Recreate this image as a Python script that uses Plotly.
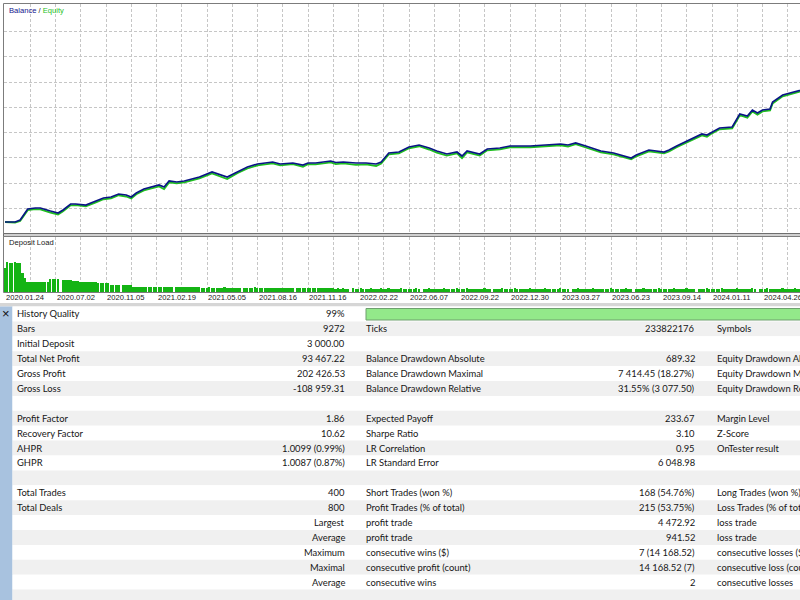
import plotly.graph_objects as go

# ---------------- data ----------------
TRADES = [0,4,6,8,9,12,14,18,21,23,26,28,32,36,39,42,45,48,50,52,55,61,63,65,68,71,75,77,82,88,92,96,100,104,106,109,114,118,120,123,129,131,134,139,143,147,149,152,156,160,164,168,171,175,179,181,183,188,191,196,200,208,214,220,223,226,230,236,241,248,250,255,261,263,266,271,276,278,280,283,288,290,291,294,296,298,300,303,304,308,311,315,318]
BALANCE = [3000,3000,3800,6960,8150,8550,8550,7360,6560,7750,10130,10130,9730,11320,12500,12900,14090,13700,12900,14480,16070,17650,16860,19240,18840,19240,20430,20820,22800,20820,22800,24780,25970,26370,26760,25970,26370,25570,26370,26370,27160,26560,26760,26370,26370,25970,26760,30330,30720,32700,33490,32310,31120,29930,30720,29140,31120,29930,31910,32310,33100,33100,33500,33890,33500,34290,33100,31120,30330,28350,29530,31510,30720,31510,33100,35480,37850,37450,38640,40230,40620,44190,45770,44980,47360,46170,47360,47750,50520,53300,54090,55280,56000]
EQUITY = [3000,2800,3400,6400,7700,8100,8000,6700,6000,7300,9600,9700,9200,10800,12000,12400,13600,13100,12300,14000,15500,17100,16000,18700,18300,18700,19900,20300,22200,20000,22300,24200,25400,25900,26200,25400,25900,24900,25900,25800,26600,25900,26200,25600,25800,25200,26200,29800,30200,32200,33000,31700,30500,29300,30200,28300,30600,29300,31400,31800,32600,32600,33000,33400,32900,33800,32500,30600,29800,27800,29000,31000,30200,30900,32600,35000,37300,36800,38100,39700,40100,43500,45300,44300,46800,45500,46800,47200,49900,52800,53600,54700,55500]

DEPOSIT_LOAD = [
    44,55,53,53,54,53,52,35,26,18, 18,18,18,18,18,18,18,19,23,23,
    23,23,0,21,21,21,21,20,20,20, 18,18,18,18,18,18,18,16,16,16,
    16,16,12,12,12,12,0,12,12,12, 12,10,10,10,10,10,10,10,10,9,
    9,9,9,9,9,9,9,0,9,9, 9,9,9,9,9,9,9,9,8,8,
    8,9,8,8,7,8,8,9,8,8, 7,8,8,8,0,8,7,8,8,9,
    8,8,7,8,8,7,8,8,8,7, 8,7,7,8,8,0,7,8,7,7,
    8,7,7,7,8,7,7,7,8,7, 7,6,7,6,7,6,6,0,7,6,
    6,7,6,6,6,7,6,6,6,7, 6,6,7,6,6,6,6,7,6,6,
    6,6,6,7,6,0,6,6,7,6, 6,6,6,6,7,6,6,6,6,7,
    6,6,6,7,6,6,6,6,6,6, 7,6,6,0,6,6,6,7,6,6,
    6,6,7,6,6,6,6,6,7,6, 6,6,6,6,7,6,6,6,6,6,
    7,6,6,6,0,6,6,7,6,6, 6,6,6,7,6,6,6,6,6,6,
    7,6,6,6,6,6,7,6,6,0, 6,6,6,7,6,6,6,6,6,7,
    6,6,6,6,6,7,6,6,6,6, 7,6,6,6,0,6,6,6,7,6,
    6,6,6,6,7,6,6,6,6,6, 7,6,6,6,6,6,7,6,0,6,
    6,6,7,6,6,6,6,6,7,6, 6,6,6,7,6,6,6,6,6,6,
]

DATE_TICKS = [0,20,40,60,80,100,120,140,160,180,200,220,240,260,280,300]
DATE_LABELS = ["2020.01.24","2020.07.02","2020.11.05","2021.02.19","2021.05.05","2021.08.16",
               "2021.11.16","2022.02.22","2022.06.07","2022.09.22","2022.12.30","2023.03.27",
               "2023.06.23","2023.09.14","2024.01.11","2024.04.26"]

COL1_LABELS = ["History Quality","Bars","Initial Deposit","Total Net Profit","Gross Profit","Gross Loss","",
               "Profit Factor","Recovery Factor","AHPR","GHPR","",
               "Total Trades","Total Deals","","","","","",""]
COL1_VALUES = ["99%","9272","3 000.00","93 467.22","202 426.53","-108 959.31","",
               "1.86","10.62","1.0099 (0.99%)","1.0087 (0.87%)","",
               "400","800","Largest","Average","Maximum","Maximal","Average",""]
COL2_LABELS = ["","Ticks","","Balance Drawdown Absolute","Balance Drawdown Maximal","Balance Drawdown Relative","",
               "Expected Payoff","Sharpe Ratio","LR Correlation","LR Standard Error","",
               "Short Trades (won %)","Profit Trades (% of total)","profit trade","profit trade",
               "consecutive wins ($)","consecutive profit (count)","consecutive wins",""]
COL2_VALUES = ["","233822176","","689.32","7 414.45 (18.27%)","31.55% (3 077.50)","",
               "233.67","3.10","0.95","6 048.98","",
               "168 (54.76%)","215 (53.75%)","4 472.92","941.52","7 (14 168.52)","14 168.52 (7)","2",""]
COL3_LABELS = ["","Symbols","","Equity Drawdown Absolute","Equity Drawdown Maximal","Equity Drawdown Relative","",
               "Margin Level","Z-Score","OnTester result","","",
               "Long Trades (won %)","Loss Trades (% of total)","loss trade","loss trade",
               "consecutive losses ($)","consecutive loss (count)","consecutive losses",""]

# ---------------- helpers (pixel -> paper) ----------------
W, H = 800, 600
def PX(px): return px / W
def PY(py): return 1 - py / H

PX_PER_TRADE = 2.525
X0_PX = 5.0
def trade_at(px): return (px - X0_PX) / PX_PER_TRADE

USD_PER_PX = 396.04
def usd_at(py): return 3000 + (222 - py) * USD_PER_PX

xr = [trade_at(4), trade_at(800)]
yr = [usd_at(233.5), usd_at(4)]
g0 = usd_at(31.7)
ygrid = [g0 - 10000 * k for k in range(9)]

GRID = dict(showgrid=True, gridcolor="#c6c6c6", gridwidth=1, griddash="3px,2px")

fig = go.Figure()
fig.add_trace(go.Scatter(x=TRADES, y=EQUITY, mode="lines", line=dict(color="#1fbf1f", width=1.8),
                         xaxis="x", yaxis="y", hoverinfo="skip", showlegend=False))
fig.add_trace(go.Scatter(x=TRADES, y=BALANCE, mode="lines", line=dict(color="#0a1585", width=1.7),
                         xaxis="x", yaxis="y", hoverinfo="skip", showlegend=False))
fig.add_trace(go.Bar(x=list(range(len(DEPOSIT_LOAD))), y=DEPOSIT_LOAD, width=0.72,
                     marker=dict(color="#14b414", line=dict(width=0)),
                     xaxis="x2", yaxis="y2", hoverinfo="skip", showlegend=False))

fig.update_layout(
    width=W, height=H, margin=dict(l=0, r=0, t=0, b=0),
    paper_bgcolor="white", plot_bgcolor="white", showlegend=False, bargap=0,
    xaxis=dict(domain=[PX(4), 1], range=xr, tick0=0, dtick=10, showticklabels=False,
               zeroline=False, showline=False, ticks="", anchor="y", **GRID),
    yaxis=dict(domain=[PY(233.5), PY(4)], range=yr, tickmode="array", tickvals=ygrid,
               showticklabels=False, zeroline=False, showline=False, ticks="", anchor="x", **GRID),
    xaxis2=dict(domain=[PX(4), 1], range=xr, tick0=0, dtick=10, showticklabels=False,
                zeroline=False, showline=False, ticks="", anchor="y2", **GRID),
    yaxis2=dict(domain=[PY(292), PY(237)], range=[0, 100], showgrid=False, showticklabels=False,
                zeroline=False, showline=False, ticks="", anchor="x2"),
)

shapes = []
# panel borders
shapes.append(dict(type="rect", xref="paper", yref="paper", x0=PX(3.5), x1=PX(820), y0=PY(233.5), y1=PY(3.5),
                   line=dict(color="#7c7c7c", width=1), fillcolor="rgba(0,0,0,0)", layer="above"))
shapes.append(dict(type="rect", xref="paper", yref="paper", x0=PX(3.5), x1=PX(820), y0=PY(236.5), y1=PY(233.5),
                   line=dict(color="#6e6e6e", width=1), fillcolor="#cfcfcf", layer="above"))
shapes.append(dict(type="rect", xref="paper", yref="paper", x0=PX(3.5), x1=PX(820), y0=PY(292.5), y1=PY(236.5),
                   line=dict(color="#7c7c7c", width=1), fillcolor="rgba(0,0,0,0)", layer="above"))
# separator above table
shapes.append(dict(type="rect", xref="paper", yref="paper", x0=0, x1=1, y0=PY(306.5), y1=PY(303),
                   line=dict(width=0), fillcolor="#d6d6d6", layer="below"))
# sidebar
shapes.append(dict(type="rect", xref="paper", yref="paper", x0=0, x1=PX(12.5), y0=0, y1=PY(306.5),
                   line=dict(width=0), fillcolor="#a8c2df", layer="below"))

ROW_TOP = 306.5
ROW_H = 14.9
annotations = []
TXT = dict(family="Lato, 'Open Sans', sans-serif", size=9.4, color="#161616")
for k in range(len(COL1_LABELS)):
    y0 = ROW_TOP + ROW_H * k
    y1 = y0 + ROW_H
    yc = (y0 + y1) / 2
    shapes.append(dict(type="rect", xref="paper", yref="paper", x0=PX(12.5), x1=1, y0=PY(min(y1, 600)), y1=PY(y0),
                       line=dict(width=0), fillcolor="#ffffff" if k % 2 == 0 else "#f0f0f0", layer="below"))
    for txt, xpx, anc in [(COL1_LABELS[k], 17, "left"), (COL1_VALUES[k], 344.5, "right"),
                          (COL2_LABELS[k], 366, "left"), (COL2_VALUES[k], 694.5, "right"),
                          (COL3_LABELS[k], 716.5, "left")]:
        if txt:
            annotations.append(dict(text=txt, x=PX(xpx), y=PY(yc), xref="paper", yref="paper",
                                    xanchor=anc, yanchor="middle", showarrow=False, font=TXT,
                                    xshift=-2 if anc == "left" else 2))

# history quality bar
shapes.append(dict(type="rect", xref="paper", yref="paper", x0=PX(366), x1=PX(830), y0=PY(320), y1=PY(308.5),
                   line=dict(color="#6f9f6f", width=1), fillcolor="#93e98a", layer="above"))

annotations.append(dict(text="×", x=PX(6.3), y=PY(313.5), xref="paper", yref="paper", xanchor="center",
                        yanchor="middle", showarrow=False,
                        font=dict(family="Liberation Sans", size=13, color="#111111")))

SMALL = dict(family="Liberation Sans, Arial, sans-serif", size=7.6, color="#202020")
annotations.append(dict(text='<span style="color:#12128c">Balance</span> / <span style="color:#1fbf1f">Equity</span>',
                        x=PX(6.5), y=PY(10), xref="paper", yref="paper", xanchor="left", yanchor="middle",
                        showarrow=False, font=SMALL))
annotations.append(dict(text="Deposit Load", x=PX(6.5), y=PY(242.5), xref="paper", yref="paper",
                        xanchor="left", yanchor="middle", showarrow=False, font=SMALL))
for tv, tl in zip(DATE_TICKS, DATE_LABELS):
    annotations.append(dict(text=tl, x=tv, y=PY(297.5), xref="x", yref="paper", xanchor="left",
                            yanchor="middle", showarrow=False, xshift=-1, font=SMALL))

fig.update_layout(shapes=shapes, annotations=annotations)
fig.write_html("out.html")
